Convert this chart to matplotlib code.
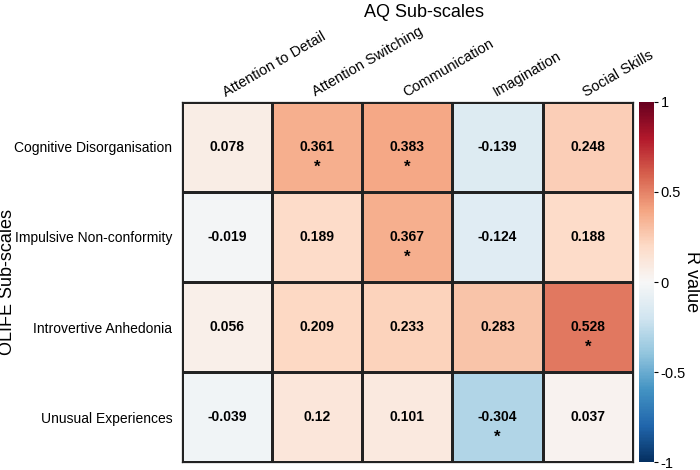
import numpy as np
import matplotlib
matplotlib.use("Agg")
import matplotlib.pyplot as plt
from matplotlib.colors import Normalize

plt.rcParams['font.family'] = ['Liberation Sans', 'DejaVu Sans']

cols = ["Attention to Detail", "Attention Switching", "Communication", "Imagination", "Social Skills"]
rows = ["Cognitive Disorganisation", "Impulsive Non-conformity", "Introvertive Anhedonia", "Unusual Experiences"]
vals = [
    [0.078, 0.361, 0.383, -0.139, 0.248],
    [-0.019, 0.189, 0.367, -0.124, 0.188],
    [0.056, 0.209, 0.233, 0.283, 0.528],
    [-0.039, 0.12, 0.101, -0.304, 0.037],
]
labels = [
    ["0.078", "0.361", "0.383", "-0.139", "0.248"],
    ["-0.019", "0.189", "0.367", "-0.124", "0.188"],
    ["0.056", "0.209", "0.233", "0.283", "0.528"],
    ["-0.039", "0.12", "0.101", "-0.304", "0.037"],
]
sig = [
    [0, 1, 1, 0, 0],
    [0, 0, 1, 0, 0],
    [0, 0, 0, 0, 1],
    [0, 0, 0, 1, 0],
]
cbar_ticks = [-1, -0.5, 0, 0.5, 1]
cbar_ticklabels = ["-1", "-0.5", "0", "0.5", "1"]

V = np.array(vals)
fig = plt.figure(figsize=(7, 4.7), dpi=100)
ax = fig.add_axes([0.26, 0.017, 0.644, 0.766])
cax = fig.add_axes([0.913, 0.017, 0.021, 0.766])
norm = Normalize(-1, 1)
cmap = plt.get_cmap('RdBu_r')
im = ax.pcolormesh(np.arange(V.shape[1] + 1), np.arange(V.shape[0] + 1), V,
                   cmap=cmap, norm=norm, edgecolors='#222222', linewidth=0.9)
ax.set_xlim(0, V.shape[1])
ax.set_ylim(V.shape[0], 0)
for i in range(V.shape[0]):
    for j in range(V.shape[1]):
        ax.text(j + 0.5, i + 0.5, labels[i][j], ha='center', va='center',
                fontsize=10, fontweight='bold', color='black')
        if sig[i][j]:
            ax.text(j + 0.5, i + 0.72, "*", ha='center', va='center',
                    fontsize=12, fontweight='bold', color='black')

ax.xaxis.tick_top()
ax.set_xticks(np.arange(V.shape[1]) + 0.5)
ax.set_xticklabels(cols, rotation=30, ha='left', va='bottom', rotation_mode='anchor', fontsize=10.5)
ax.set_yticks(np.arange(V.shape[0]) + 0.5)
ax.set_yticklabels(rows, fontsize=10)
ax.tick_params(axis='both', length=0, pad=7)
ax.tick_params(axis='x', pad=2)
for s in ax.spines.values():
    s.set_linewidth(0.9)
    s.set_color('#222222')

fig.text(8 / 700, 0.5 * (0.017 + 0.783), "OLIFE Sub-scales", rotation=90,
         ha='center', va='center', fontsize=13)
fig.text(424 / 700, 0.974, "AQ Sub-scales", ha='center', va='center', fontsize=13)

cb = fig.colorbar(plt.cm.ScalarMappable(norm=norm, cmap=cmap), cax=cax)
cb.set_ticks(cbar_ticks)
cb.set_ticklabels(cbar_ticklabels)
cb.ax.tick_params(labelsize=10.5, length=3, width=0.8, pad=2)
cb.outline.set_visible(False)
cb.set_label("R value", rotation=270, fontsize=13, labelpad=10)

fig.savefig("out.png", dpi=100)
